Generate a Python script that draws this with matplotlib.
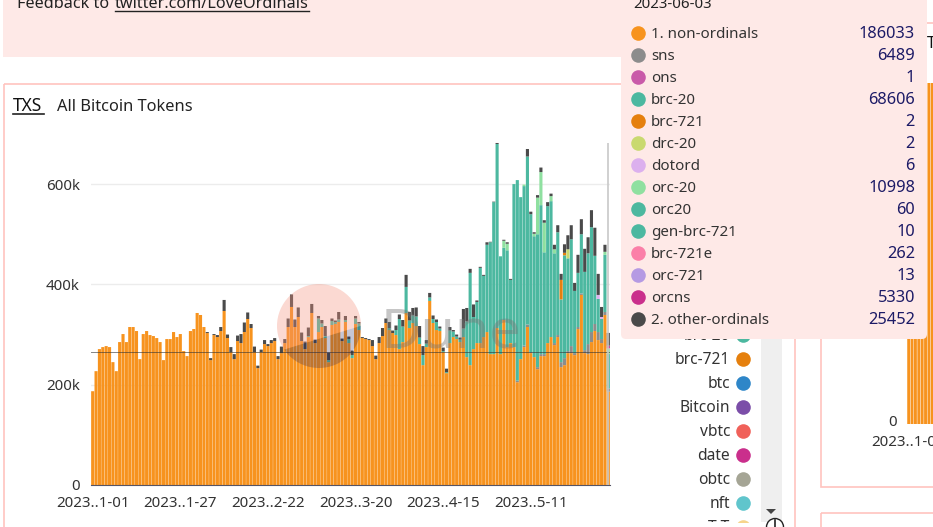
import numpy as np
import matplotlib
matplotlib.use("Agg")
import matplotlib.pyplot as plt
from matplotlib.patches import Rectangle, FancyBboxPatch, Circle, Polygon

plt.rcParams["font.family"] = ["Noto Sans", "DejaVu Sans"]

# thousands of txs per day, 2023-01-01 .. 2023-06-02 (last day comes from the tooltip)
non_ordinals = [
    187, 227, 271, 275, 277, 275, 245, 227, 285, 301,
    285, 315, 315, 307, 251, 301, 307, 299, 297, 293,
    285, 249, 291, 291, 305, 295, 301, 267, 257, 307,
    311, 343, 339, 315, 303, 249, 299, 295, 307, 347,
    293, 265, 251, 287, 283, 305, 331, 313, 265, 233,
    265, 281, 277, 283, 287, 251, 263, 283, 315, 355,
    315, 335, 287, 271, 295, 343, 283, 305, 315, 293,
    245, 319, 321, 325, 287, 325, 283, 253, 321, 309,
    293, 291, 289, 277, 251, 283, 297, 323, 309, 303,
    299, 271, 285, 343, 313, 323, 317, 281, 239, 275,
    367, 323, 309, 307, 265, 223, 283, 295, 291, 285,
    295, 255, 239, 271, 283, 283, 295, 305, 261, 261,
    313, 261, 329, 275, 283, 275, 205, 251, 275, 315,
    263, 255, 231, 257, 257, 283, 295, 279, 295, 235,
    239, 263, 263, 259, 311, 379, 263, 261, 285, 307,
    289, 283, 339,
]
brc_20 = [
    0, 0, 0, 0, 0, 0, 0, 0, 0, 0,
    0, 0, 0, 0, 0, 0, 0, 0, 0, 0,
    0, 0, 0, 0, 0, 0, 0, 0, 0, 0,
    0, 0, 0, 0, 0, 0, 0, 0, 0, 0,
    0, 0, 0, 0, 0, 0, 0, 0, 0, 0,
    0, 0, 0, 0, 0, 0, 0, 0, 0, 0,
    0, 0, 0, 0, 2, 0, 0, 27, 7, 4,
    4, 8, 4, 5, 0, 4, 8, 6, 11, 13,
    0, 0, 0, 0, 0, 0, 0, 0, 4, 0,
    10, 60, 31, 52, 15, 15, 19, 13, 20, 7,
    7, 8, 16, 5, 2, 2, 25, 11, 5, 5,
    17, 71, 184, 64, 82, 150, 122, 174, 223, 303,
    367, 195, 144, 193, 126, 325, 400, 323, 318, 335,
    275, 241, 265, 297, 203, 273, 271, 179, 205, 125,
    205, 185, 213, 124, 108, 118, 156, 181, 209, 136,
    66, 40, 114,
]
other_ordinals = [
    0, 0, 0, 0, 0, 0, 0, 0, 0, 0,
    0, 0, 0, 0, 0, 0, 0, 0, 0, 0,
    0, 0, 0, 0, 0, 0, 0, 0, 0, 0,
    0, 0, 0, 0, 2, 4, 2, 4, 8, 22,
    7, 10, 10, 11, 18, 19, 13, 8, 11, 5,
    5, 8, 4, 6, 6, 6, 13, 8, 17, 25,
    15, 19, 17, 15, 17, 18, 7, 5, 7, 20,
    15, 5, 3, 15, 5, 8, 5, 9, 5, 3,
    2, 2, 2, 12, 7, 12, 16, 9, 12, 5,
    9, 9, 13, 24, 17, 15, 18, 23, 18, 7,
    9, 7, 5, 4, 7, 7, 7, 3, 4, 4,
    39, 27, 8, 25, 3, 2, 2, 5, 1, 1,
    2, 0, 2, 3, 2, 0, 0, 0, 0, 15,
    5, 3, 5, 9, 5, 8, 5, 9, 14, 12,
    17, 28, 28, 16, 36, 30, 46, 32, 34, 56,
    42, 20, 14,
]
# the small series only show up on a few days: {day index: thousands}
sns = {126: 3, 128: 3, 129: 5, 130: 2, 132: 4, 133: 4, 134: 4, 137: 4, 138: 4, 139: 10,
       140: 14, 141: 4, 142: 14, 143: 4, 144: 4, 145: 3, 146: 6, 147: 20, 148: 20,
       149: 14, 150: 16, 151: 8, 152: 6}
brc_721 = {139: 39, 140: 5}
drc_20 = {141: 18}
dotord = {150: 8, 151: 4}
orc_20 = {122: 14, 123: 13, 128: 3, 131: 5, 132: 73, 133: 66, 134: 59, 136: 10, 137: 8, 152: 6}

tooltip_date = "2023-06-03"
tooltip_names = ["1. non-ordinals", "sns", "ons", "brc-20", "brc-721", "drc-20", "dotord",
                 "orc-20", "orc20", "gen-brc-721", "brc-721e", "orc-721", "orcns", "2. other-ordinals"]
tooltip_values = [186033, 6489, 1, 68606, 2, 2, 6, 10998, 60, 10, 262, 13, 5330, 25452]
tooltip_colors = ["#f7931e", "#8c8c8c", "#c95aa9", "#4cb8a0", "#e5800e", "#c9d96f", "#dcb0ee",
                  "#8fe0a0", "#4db89f", "#4cb8a0", "#fb7fa8", "#b59ae3", "#ca2f8c", "#4a4a4a"]

legend_names = ["brc-20", "brc-721", "btc", "Bitcoin", "vbtc", "date", "obtc", "nft"]
legend_colors = ["#4cb8a0", "#e5800e", "#2e86c8", "#7b4ea8", "#f0615a", "#ca2f8c", "#a5a595", "#60c5cc"]

y_ticks = [0, 200000, 400000, 600000]
y_labels = ["0", "200k", "400k", "600k"]
x_ticks = [0, 26, 52, 78, 104, 130]
x_labels = ["2023..1-01", "2023..1-27", "2023..2-22", "2023..3-20", "2023..4-15", "2023..5-11"]

# second chart, almost all behind the tooltip
second_values = [300000, 310000, 320000, 300000, 330000, 340000, 680000, 680000]

W, H = 933, 527
TEXT = "#333333"
PINK = "#fee9e7"
BORDER = "#ffc4bf"


def px_axes(fig, left, top, right, bottom, zorder):
    return fig.add_axes([left / W, 1 - bottom / H, (right - left) / W, (bottom - top) / H], zorder=zorder)


def series_from(sparse, last):
    values = np.zeros(154)
    for day, v in sparse.items():
        values[day] = v * 1000
    values[-1] = last
    return values


def full_series(values, last):
    return np.array([v * 1000 for v in values] + [last], dtype=float)


fig = plt.figure(figsize=(W / 100, H / 100), dpi=100, facecolor="white")

# page furniture behind the charts
back = fig.add_axes([0, 0, 1, 1], zorder=0)
back.set_xlim(0, W)
back.set_ylim(H, 0)
back.axis("off")
back.add_patch(Rectangle((3, -5), 792, 62, fc=PINK, ec="none"))
back.text(17, 8, "Feedback to ", fontsize=11.7, color="#222222", va="baseline")
back.text(115, 8, "twitter.com/LoveOrdinals", fontsize=11.7, color="#222222", va="baseline")
back.plot([115, 309], [11, 11], color="#222222", lw=1)
back.add_patch(Rectangle((3.5, 83.5), 791, 460, fc="none", ec=BORDER, lw=1.2))
back.add_patch(Rectangle((820.5, 22.5), 130, 464, fc="none", ec=BORDER, lw=1.2))
back.add_patch(Rectangle((820.5, 512.5), 130, 60, fc="none", ec=BORDER, lw=1.2))
back.text(13, 111, "TXS", fontsize=12.5, color="#111111", fontweight="medium", va="baseline")
back.plot([13, 44], [114, 114], color="#222222", lw=1.2)
back.text(57, 111, "All Bitcoin Tokens", fontsize=11.8, color="#222222", va="baseline")
back.text(927, 48, "T", fontsize=11.5, color="#111111", va="baseline")
back.text(893, 423, "0", fontsize=10.8, color=TEXT, ha="center", va="center")
back.text(871, 442, "2023..1-01", fontsize=10.9, color=TEXT, ha="left", va="center")

# right hand legend, mostly hidden by the tooltip
back.add_patch(Rectangle((761, 300), 21, 222, fc="#efefef", ec="none"))
back.add_patch(Polygon([[766, 509], [776, 509], [771, 514]], fc="#444444", ec="none"))
for i, (name, color) in enumerate(zip(legend_names, legend_colors)):
    y = 335 + i * 24
    back.text(730, y + 1, name, fontsize=11.2, color=TEXT, ha="right", va="center")
    back.plot(743, y, "o", ms=10.5, color=color, mec="none")
clip = Rectangle((690, 500), 70, 22, transform=back.transData)
partial = back.text(730, 528, "T-T", fontsize=11.2, color=TEXT, ha="right", va="center", clip_on=True)
partial.set_clip_path(clip)
partial_dot = back.plot(743, 527, "o", ms=10.5, color="#f6d58c", mec="none")[0]
partial_dot.set_clip_path(clip)
back.add_patch(Circle((775, 527), 8.5, fc="white", ec="#222222", lw=1))
back.plot([775, 775], [520, 527], color="#222222", lw=1.2)

# main stacked chart
ax = px_axes(fig, 91, 135, 610, 485, 1)
ax.patch.set_alpha(0)
days = np.arange(154)
stack = [
    (full_series(non_ordinals, tooltip_values[0]), tooltip_colors[0]),
    (series_from(sns, tooltip_values[1]), tooltip_colors[1]),
    (series_from({}, tooltip_values[2]), tooltip_colors[2]),
    (full_series(brc_20, tooltip_values[3]), tooltip_colors[3]),
    (series_from(brc_721, tooltip_values[4]), tooltip_colors[4]),
    (series_from(drc_20, tooltip_values[5]), tooltip_colors[5]),
    (series_from(dotord, tooltip_values[6]), tooltip_colors[6]),
    (series_from(orc_20, tooltip_values[7]), tooltip_colors[7]),
    (series_from({}, tooltip_values[8]), tooltip_colors[8]),
    (series_from({}, tooltip_values[9]), tooltip_colors[9]),
    (series_from({}, tooltip_values[10]), tooltip_colors[10]),
    (series_from({}, tooltip_values[11]), tooltip_colors[11]),
    (series_from({}, tooltip_values[12]), tooltip_colors[12]),
    (full_series(other_ordinals, tooltip_values[13]), tooltip_colors[13]),
]
bottom = np.zeros(154)
for values, color in stack:
    ax.bar(days, values, bottom=bottom, width=0.92, color=color, linewidth=0, zorder=2, snap=False)
    bottom += values

ax.set_xlim(-0.5, 153.5)
ax.set_ylim(0, 350 * 1994)
ax.set_yticks(y_ticks, y_labels)
ax.set_xticks(x_ticks, x_labels)
ax.tick_params(axis="both", length=0, labelsize=10.9, labelcolor=TEXT)
ax.tick_params(axis="y", pad=8)
ax.tick_params(axis="x", pad=8)
ax.grid(axis="y", color="#ececec", lw=1, zorder=0)
for side in ["top", "right", "left"]:
    ax.spines[side].set_visible(False)
ax.spines["bottom"].set_color("#555566")
# crosshair of the hovered day
ax.axhline(265000, color="#333333", lw=0.7, alpha=0.6, zorder=3)
ax.vlines(153, 0, 682000, color="#c8c8c8", lw=1.2, zorder=3)

# second chart, on the right
ax2 = px_axes(fig, 907, 83, 933, 424, 1)
ax2.bar(np.arange(len(second_values)), second_values, width=0.86, color=tooltip_colors[0], linewidth=0, snap=False)
ax2.set_xlim(-0.5, 26 / 3.37 - 0.5)
ax2.set_ylim(0, 680000)
ax2.axis("off")

# watermark and tooltip on top
front = fig.add_axes([0, 0, 1, 1], zorder=3)
front.set_xlim(0, W)
front.set_ylim(H, 0)
front.axis("off")
front.patch.set_alpha(0)
logo_clip = Circle((319, 326), 42, transform=front.transData)
upper = Polygon([[270, 354], [370, 323], [370, 270], [270, 270]], fc="#f4927f", ec="none", alpha=0.35)
front.add_patch(upper)
upper.set_clip_path(logo_clip)
logo_clip2 = Circle((319, 326), 42, transform=front.transData)
shade = Polygon([[270, 354], [370, 323], [370, 375], [270, 375]], fc="#1e1e5a", ec="none", alpha=0.25)
front.add_patch(shade)
shade.set_clip_path(logo_clip2)
front.text(451, 348, "Dune", fontsize=40, fontweight="bold", color="#777777", alpha=0.42,
           ha="center", va="baseline")

front.add_patch(FancyBboxPatch((624, -20), 300, 356, boxstyle="round,pad=3,rounding_size=5",
                               fc=PINK, ec="none"))
front.text(633, 5, tooltip_date, fontsize=10.8, color="#222222", va="center")
for i, (name, value, color) in enumerate(zip(tooltip_names, tooltip_values, tooltip_colors)):
    y = 33 + i * 22
    front.plot(638, y, "o", ms=10.5, color=color, mec="none")
    front.text(651, y + 1, name, fontsize=10.9, color=TEXT, va="center")
    front.text(915, y + 1, str(value), fontsize=11.8, color="#1c1a66", ha="right", va="center")

fig.savefig("out.png", dpi=100)
